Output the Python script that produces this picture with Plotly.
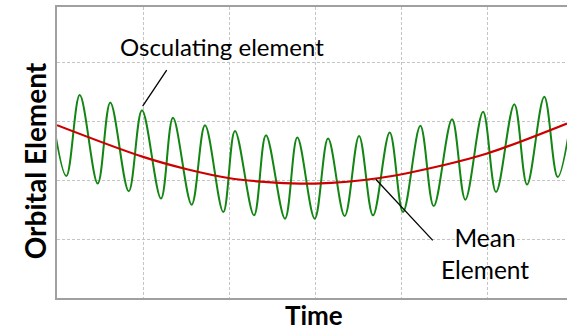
import plotly.graph_objects as go

# Osculating element: extrema (time units, element units)
osc_time = [-0.101, 0.108, 0.264, 0.473, 0.619, 0.833, 0.987, 1.208, 1.347, 1.564,
            1.719, 1.931, 2.067, 2.288, 2.427, 2.648, 2.791, 2.993, 3.148, 3.341,
            3.508, 3.670, 3.864, 4.019, 4.220, 4.375, 4.588, 4.742, 4.948, 5.099,
            5.311, 5.459, 5.659, 5.815, 6.021]
osc_value = [3.563, 2.071, 3.444, 1.942, 3.320, 1.811, 3.189, 1.687, 3.058, 1.585,
             2.934, 1.459, 2.837, 1.403, 2.764, 1.347, 2.724, 1.347, 2.707, 1.391,
             2.752, 1.403, 2.810, 1.459, 2.922, 1.561, 3.036, 1.670, 3.160, 1.799,
             3.291, 1.925, 3.415, 2.054, 3.546]

# Mean element
mean_time = [0.0, 1.0, 1.510, 1.990, 2.532, 2.996, 3.748, 4.483, 4.994, 5.923]
mean_value = [2.934, 2.395, 2.185, 2.037, 1.959, 1.942, 2.037, 2.253, 2.452, 2.963]

x_range = [0, 5.923]
y_range = [0, 4.94]

FONT = "Lato"

fig = go.Figure()
fig.add_trace(go.Scatter(x=osc_time, y=osc_value, mode="lines",
                         line=dict(color="#128512", width=2, shape="spline", smoothing=1.0),
                         hoverinfo="skip", showlegend=False))
fig.add_trace(go.Scatter(x=mean_time, y=mean_value, mode="lines",
                         line=dict(color="#cc0000", width=2.2, shape="spline"),
                         hoverinfo="skip", showlegend=False))

axis_common = dict(showgrid=True, gridcolor="#c4c4c4", gridwidth=1, griddash="3px,2px",
                   dtick=1, tick0=0, showticklabels=False, ticks="", zeroline=False,
                   showline=True, linecolor="#a0a0a0", linewidth=2)

fig.update_layout(
    width=567, height=331,
    margin=dict(l=57, r=0, t=7, b=33),
    paper_bgcolor="white", plot_bgcolor="white",
    font=dict(family=FONT, color="black"),
    xaxis=dict(range=x_range, mirror=True, **axis_common),
    yaxis=dict(range=y_range, mirror=False, **axis_common),
    shapes=[
        dict(type="line", xref="x", yref="y", x0=1.274, y0=3.869, x1=0.995, y1=3.257,
             line=dict(color="black", width=1.3)),
        dict(type="line", xref="x", yref="y", x0=3.702, y0=2.015, x1=4.364, y1=0.978,
             line=dict(color="black", width=1.3)),
    ],
    annotations=[
        dict(text="Osculating element", x=1.922, y=4.277, xref="x", yref="y",
             xanchor="center", yanchor="middle",
             showarrow=False, font=dict(size=24, family=FONT)),
        dict(text="Mean<br>Element", x=4.965, y=0.757, xref="x", yref="y",
             xanchor="center", yanchor="middle",
             showarrow=False, font=dict(size=24.5, family=FONT)),
        dict(text="<b>Orbital Element</b>", x=-0.043, y=0.47, xref="paper", yref="paper",
             xanchor="center", yanchor="middle",
             textangle=-90, showarrow=False, font=dict(size=28, family=FONT)),
        dict(text="<b>Time</b>", x=0.504, y=-0.057, xref="paper", yref="paper",
             xanchor="center", yanchor="middle",
             showarrow=False, font=dict(size=26, family=FONT)),
    ],
)

fig.write_html("out.html")
